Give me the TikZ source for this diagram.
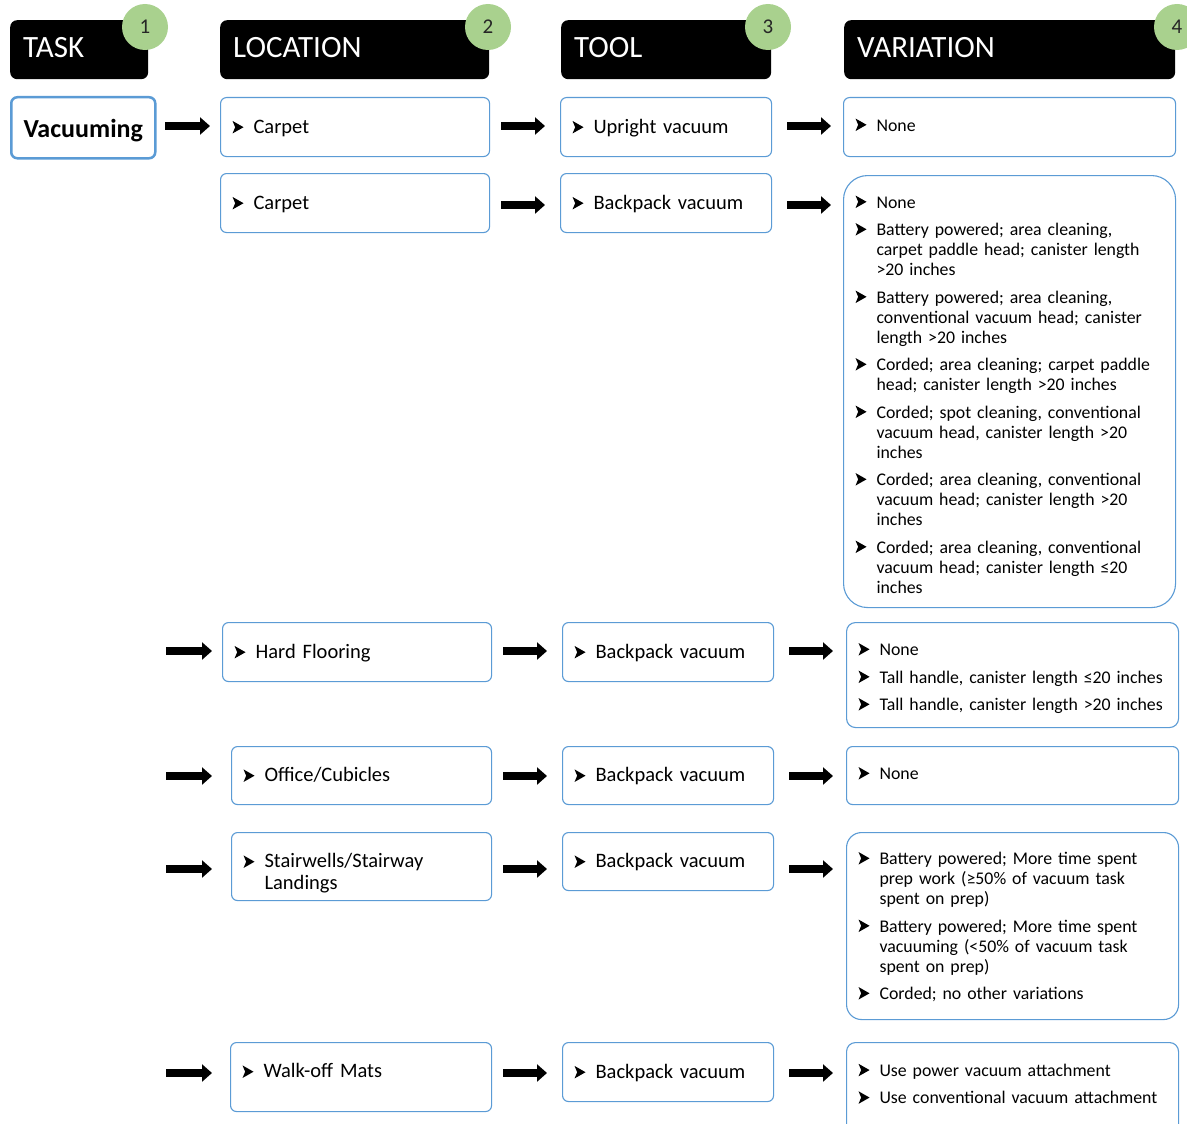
\documentclass[tikz,border=0pt]{standalone}
\usepackage{fontspec}
\setmainfont{Carlito}
\usetikzlibrary{arrows.meta}
\definecolor{bblue}{RGB}{91,155,213}
\definecolor{cgreen}{RGB}{169,209,142}
\newsavebox\bulbox
\newsavebox\lstbox
\AtBeginDocument{\sbox\bulbox{\begin{pgfpicture}%
\pgfpathmoveto{\pgfpoint{0pt}{0pt}}%
\pgfpathlineto{\pgfpoint{11pt}{6.25pt}}%
\pgfpathlineto{\pgfpoint{0pt}{12.5pt}}%
\pgfpathlineto{\pgfpoint{2.6pt}{6.25pt}}%
\pgfpathclose\pgfusepath{fill}\end{pgfpicture}}}
\newcommand\B{\makebox[21pt][l]{\raisebox{0pt}{\usebox\bulbox}}}
\newcommand\Lst[2][0pt]{\noindent\sbox\lstbox{\begin{tabular}{@{}l@{}l@{}}#2\end{tabular}}%
  \raisebox{#1}[\ht\lstbox][\dp\lstbox]{\usebox\lstbox}}
\newcommand\Rz[2]{\sbox\lstbox{#2}\raisebox{#1}[\ht\lstbox][\dp\lstbox]{\usebox\lstbox}}
\tikzset{
  box/.style={draw=bblue, line width=1.1pt, rounded corners=6pt, fill=white,
    inner xsep=12pt, inner ysep=0pt, align=left, anchor=north west},
  lt/.style={font=\fontsize{20.5}{22}\selectfont},
  vt/.style={font=\fontsize{17.8}{20}\selectfont},
  hdr/.style={fill=black, rounded corners=7pt, text=white,
    font=\fontsize{31}{36}\selectfont, inner xsep=13pt, inner ysep=0pt,
    align=left, anchor=north west, minimum height=59pt},
  num/.style={circle, fill=cgreen, minimum size=46pt, inner sep=0pt,
    font=\fontsize{21}{24}\selectfont, text=black!85},
  barrow/.style={line width=8pt, -{Triangle[length=10pt,width=17pt]}},
}
\begin{document}
\begin{tikzpicture}[x=1pt,y=-1pt]
\useasboundingbox (0,0) rectangle (1187,1124);
% headers
\node[hdr, minimum width=138pt, text width=112pt] (hTask) at (10,20) {\Rz{2pt}{TASK}};
\node[hdr, minimum width=269pt, text width=243pt] (hLoc) at (220,20) {\Rz{2pt}{LOCATION}};
\node[hdr, minimum width=210pt, text width=184pt] (hTool) at (561,20) {\Rz{2pt}{TOOL}};
\node[hdr, minimum width=331pt, text width=305pt] (hVar) at (844,20) {\Rz{2pt}{VARIATION}};
\node[num] (n1) at (145,27) {1};
\node[num] (n2) at (488,27) {2};
\node[num] (n3) at (768,27) {3};
\node[num] (n4) at (1177,27) {4};
% task
\node[draw=bblue, line width=2.5pt, rounded corners=6pt, fill=white, anchor=north west,
  minimum width=144pt, minimum height=61pt, inner sep=0pt,
  font=\bfseries\fontsize{26}{30}\selectfont] (vac) at (10,96) {\Rz{-3pt}{Vacuuming}};
% row 1
\node[box, lt, minimum width=269pt, text width=245pt, minimum height=59pt] (L1) at (220,97) {\Lst[-2pt]{\B & Carpet}};
\node[box, lt, minimum width=211pt, text width=187pt, minimum height=59pt] (T1) at (560,97) {\Lst[-2pt]{\B & Upright vacuum}};
\node[box, vt, minimum width=332pt, text width=308pt, minimum height=59pt] (V1) at (843,97) {\Lst{\B & None}};
% row 2
\node[box, lt, minimum width=269pt, text width=245pt, minimum height=59pt] (L2) at (220,173) {\Lst[-2pt]{\B & Carpet}};
\node[box, lt, minimum width=211pt, text width=187pt, minimum height=59pt] (T2) at (560,173) {\Lst[-2pt]{\B & Backpack vacuum}};
\node[box, vt, rounded corners=24pt, minimum width=332pt, text width=308pt, minimum height=432pt] (V2) at (843,175) {\Lst[-5pt]{%
\B & None\\[7.5pt]
\B & Battery powered; area cleaning,\\
   & carpet paddle head; canister length\\
   & >20 inches\\[7.5pt]
\B & Battery powered; area cleaning,\\
   & conventional vacuum head; canister\\
   & length >20 inches\\[7.5pt]
\B & Corded; area cleaning; carpet paddle\\
   & head; canister length >20 inches\\[7.5pt]
\B & Corded; spot cleaning, conventional\\
   & vacuum head, canister length >20\\
   & inches\\[7.5pt]
\B & Corded; area cleaning, conventional\\
   & vacuum head; canister length >20\\
   & inches\\[7.5pt]
\B & Corded; area cleaning, conventional\\
   & vacuum head; canister length ≤20\\
   & inches}};
% row 3
\node[box, lt, minimum width=269pt, text width=245pt, minimum height=59pt] (L3) at (222,622) {\Lst[-2pt]{\B & Hard Flooring}};
\node[box, lt, minimum width=211pt, text width=187pt, minimum height=59pt] (T3) at (562,622) {\Lst[-2pt]{\B & Backpack vacuum}};
\node[box, vt, rounded corners=9pt, minimum width=332pt, text width=308pt, minimum height=105pt] (V3) at (846,622) {\Lst[-4pt]{%
\B & None\\[7.5pt]
\B & Tall handle, canister length ≤20 inches\\[7.5pt]
\B & Tall handle, canister length >20 inches}};
% row 4
\node[box, lt, minimum width=260pt, text width=236pt, minimum height=58pt] (L4) at (231,746) {\Lst[-2pt]{\B & Office/Cubicles}};
\node[box, lt, minimum width=211pt, text width=187pt, minimum height=58pt] (T4) at (562,746) {\Lst[-2pt]{\B & Backpack vacuum}};
\node[box, vt, minimum width=332pt, text width=308pt, minimum height=58pt] (V4) at (846,746) {\Lst{\B & None}};
% row 5
\node[box, lt, minimum width=260pt, text width=236pt, minimum height=68pt] (L5) at (231,832) {\Lst[-8pt]{\B & Stairwells/Stairway\\ & Landings}};
\node[box, lt, minimum width=211pt, text width=187pt, minimum height=58pt] (T5) at (562,832) {\Lst[-2pt]{\B & Backpack vacuum}};
\node[box, vt, rounded corners=15pt, minimum width=332pt, text width=308pt, minimum height=187pt] (V5) at (846,832) {\Lst[-2pt]{%
\B & Battery powered; More time spent\\
   & prep work (≥50\% of vacuum task\\
   & spent on prep)\\[7.5pt]
\B & Battery powered; More time spent\\
   & vacuuming (<50\% of vacuum task\\
   & spent on prep)\\[7.5pt]
\B & Corded; no other variations}};
% row 6
\node[box, lt, minimum width=261pt, text width=237pt, minimum height=69pt] (L6) at (230,1042) {\Lst[3.5pt]{\B & Walk-off Mats}};
\node[box, lt, minimum width=211pt, text width=187pt, minimum height=59pt] (T6) at (562,1042) {\Lst[-2pt]{\B & Backpack vacuum}};
\node[box, vt, rounded corners=9pt, minimum width=332pt, text width=308pt, minimum height=100pt] (V6) at (846,1042) {\Lst[6.5pt]{%
\B & Use power vacuum attachment\\[7.5pt]
\B & Use conventional vacuum attachment}};
% row anchors for arrows
\coordinate (a1) at (154,126);
\coordinate (a2) at (166,205);
\coordinate (a3) at (166,651);
\coordinate (a4) at (166,776);
\coordinate (a5) at (166,869);
\coordinate (a6) at (166,1073);
% arrows
\draw[barrow, shorten <=11pt, shorten >=10pt] (a1) -- (a1 -| L1.west);
\draw[barrow, shorten <=11pt, shorten >=15pt] (a1 -| L1.east) -- (a1 -| T1.west);
\draw[barrow, shorten <=15pt, shorten >=12pt] (a1 -| T1.east) -- (a1 -| V1.west);
\draw[barrow, shorten <=11pt, shorten >=15pt] (a2 -| L2.east) -- (a2 -| T2.west);
\draw[barrow, shorten <=15pt, shorten >=12pt] (a2 -| T2.east) -- (a2 -| V2.west);
\draw[barrow, shorten >=10pt] (a3) -- (a3 -| L3.west);
\draw[barrow, shorten >=19pt] (a4) -- (a4 -| L4.west);
\draw[barrow, shorten >=19pt] (a5) -- (a5 -| L5.west);
\draw[barrow, shorten >=18pt] (a6) -- (a6 -| L6.west);
\foreach \r in {3,4,5,6}{
  \draw[barrow, shorten <=11pt, shorten >=15pt] (a\r -| L\r.east) -- (a\r -| T\r.west);
  \draw[barrow, shorten <=15pt, shorten >=13pt] (a\r -| T\r.east) -- (a\r -| V\r.west);
}
\end{tikzpicture}
\end{document}
